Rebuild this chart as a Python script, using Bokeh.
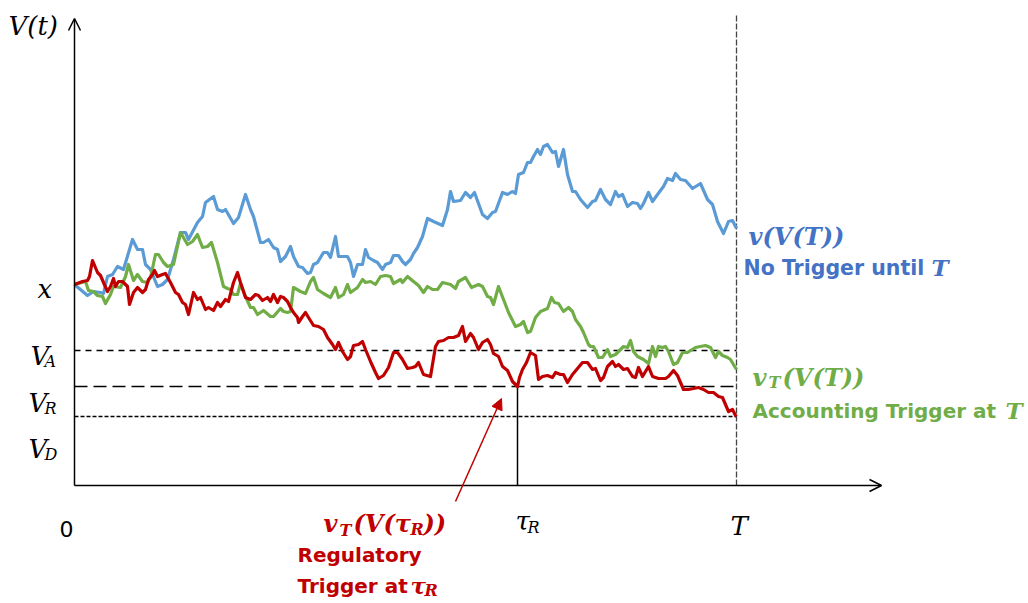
from bokeh.plotting import figure
from bokeh.models import Range1d, Arrow, OpenHead, NormalHead
from bokeh.core.properties import value
from bokeh.embed import file_html
from bokeh.resources import INLINE

# ---- key levels / times (schematic units) ----
T_END = 662
TAU_R = 443
X0 = 201
V_A = 135
V_R = 99
V_D = 69

# ---- value paths ----
blue_t = [0, 13, 19, 26, 29, 33, 38, 43, 49, 58, 63, 68, 71, 76, 83, 88, 93, 99, 106, 111, 114, 123, 128, 131,
          139, 143, 148, 151, 159, 164, 171, 176, 179, 186, 189, 194, 199, 203, 206, 211, 216, 219, 224, 228,
          233, 236, 239, 243, 246, 249, 253, 256, 261, 264, 269, 273, 276, 279, 283, 288, 291, 294, 299, 303,
          308, 311, 316, 319, 324, 328, 331, 336, 339, 343, 348, 353, 359, 368, 373, 376, 379, 386, 391, 396,
          400, 408, 413, 418, 421, 428, 433, 438, 441, 444, 449, 453, 456, 459, 463, 466, 469, 473, 478, 481,
          484, 489, 493, 498, 501, 506, 513, 518, 521, 526, 531, 536, 541, 544, 548, 553, 558, 563, 566, 569,
          574, 578, 583, 589, 593, 598, 601, 606, 611, 618, 626, 633, 638, 643, 649, 654, 658, 662]
blue_v = [201, 190, 194, 193, 192, 209, 211, 219, 216, 246, 236, 236, 221, 216, 199, 201, 206, 226, 253, 253, 246,
          263, 269, 283, 289, 276, 274, 276, 262, 268, 291, 276, 269, 243, 243, 246, 238, 236, 224, 229, 239,
          229, 219, 218, 212, 213, 221, 223, 228, 233, 233, 228, 249, 229, 229, 229, 223, 209, 221, 221, 236,
          228, 225, 223, 216, 221, 223, 230, 230, 224, 221, 226, 232, 238, 249, 267, 264, 260, 276, 294, 284,
          285, 293, 288, 293, 271, 267, 273, 274, 293, 291, 294, 292, 311, 313, 323, 323, 329, 336, 331, 339,
          341, 333, 334, 319, 336, 311, 294, 294, 286, 278, 284, 285, 296, 286, 281, 294, 289, 291, 279, 283,
          282, 277, 282, 293, 284, 291, 299, 307, 305, 312, 306, 305, 297, 302, 286, 281, 264, 252, 264, 265,
          257]

green_t = [0, 11, 14, 19, 23, 28, 31, 36, 39, 46, 51, 54, 59, 63, 68, 73, 76, 81, 84, 89, 93, 99, 106, 113, 118,
           123, 128, 133, 137, 143, 149, 153, 156, 159, 163, 166, 171, 176, 179, 183, 189, 196, 199, 206, 209,
           213, 216, 219, 226, 231, 236, 239, 243, 249, 256, 261, 264, 269, 273, 276, 283, 288, 291, 296, 301,
           306, 311, 316, 319, 326, 328, 333, 339, 344, 349, 353, 358, 363, 368, 376, 381, 384, 391, 397, 404,
           408, 413, 416, 419, 424, 429, 434, 441, 446, 449, 453, 456, 461, 466, 473, 477, 480, 484, 489, 494,
           498, 501, 506, 509, 514, 516, 519, 524, 528, 533, 536, 541, 544, 549, 553, 556, 559, 563, 569, 574,
           578, 581, 584, 588, 591, 594, 599, 603, 608, 613, 616, 621, 626, 631, 636, 641, 644, 648, 653, 656,
           659, 662]
green_v = [201, 204, 195, 194, 190, 189, 182, 191, 199, 198, 209, 221, 205, 211, 204, 203, 208, 231, 231, 223,
           219, 221, 253, 241, 244, 251, 238, 239, 243, 223, 199, 197, 196, 191, 191, 202, 189, 178, 178, 171,
           175, 169, 169, 177, 174, 173, 174, 198, 194, 192, 204, 208, 196, 192, 188, 198, 188, 191, 201, 193,
           198, 206, 203, 204, 201, 209, 210, 209, 202, 206, 203, 209, 204, 200, 193, 199, 196, 196, 203, 201,
           197, 204, 208, 198, 201, 199, 189, 188, 181, 199, 186, 173, 159, 161, 164, 153, 154, 168, 174, 177,
           188, 183, 182, 174, 178, 174, 166, 159, 153, 141, 139, 139, 128, 128, 136, 129, 131, 134, 139, 138,
           145, 134, 129, 126, 122, 139, 129, 139, 138, 139, 134, 121, 123, 133, 133, 135, 138, 139, 140, 138,
           128, 134, 130, 128, 126, 121, 116]

red_t = [0, 8, 13, 15, 18, 23, 26, 29, 33, 36, 39, 41, 44, 48, 53, 55, 59, 63, 68, 71, 74, 78, 80, 83, 88, 91,
         96, 101, 104, 108, 111, 114, 119, 123, 126, 131, 134, 139, 143, 146, 151, 154, 159, 163, 166, 171, 176,
         181, 184, 188, 193, 196, 199, 203, 206, 209, 213, 216, 219, 223, 224, 228, 231, 234, 239, 244, 249, 253,
         258, 261, 264, 268, 273, 276, 279, 284, 288, 291, 296, 301, 304, 309, 314, 319, 323, 328, 333, 338, 341,
         344, 349, 356, 361, 364, 369, 374, 379, 384, 388, 391, 396, 399, 404, 408, 413, 416, 419, 424, 428, 433,
         438, 443, 445, 448, 452, 456, 461, 464, 468, 473, 478, 481, 486, 489, 493, 498, 503, 508, 513, 518, 521,
         526, 529, 533, 538, 541, 544, 549, 553, 558, 561, 564, 568, 574, 578, 584, 591, 594, 599, 603, 609, 614,
         619, 624, 629, 634, 639, 644, 648, 651, 654, 658, 661, 662]
red_v = [201, 204, 205, 209, 225, 213, 210, 203, 194, 199, 207, 199, 204, 204, 199, 181, 193, 198, 193, 196, 206,
         211, 215, 209, 211, 212, 203, 193, 191, 183, 181, 171, 193, 186, 188, 176, 178, 175, 183, 179, 186, 184,
         203, 213, 203, 188, 186, 191, 190, 185, 188, 184, 191, 183, 189, 188, 184, 178, 173, 168, 163, 169, 173,
         168, 160, 159, 156, 148, 141, 136, 143, 134, 126, 129, 140, 141, 144, 136, 124, 113, 107, 110, 118, 133,
         133, 126, 117, 118, 119, 123, 111, 109, 139, 144, 145, 148, 148, 150, 159, 144, 152, 148, 136, 143, 146,
         141, 132, 129, 119, 115, 104, 99, 108, 116, 123, 133, 130, 106, 109, 110, 108, 113, 111, 111, 103, 111,
         117, 123, 123, 116, 117, 105, 108, 119, 124, 119, 121, 116, 117, 109, 108, 118, 109, 119, 109, 107, 107,
         109, 115, 110, 96, 96, 97, 98, 96, 93, 93, 89, 88, 81, 74, 76, 70, 69]

BLUE, GREEN, RED = "#5B9BD5", "#70AD47", "#C00000"
BLUE_TXT = "#4472C4"

p = figure(width=1028, height=603, x_range=Range1d(-74, 954), y_range=Range1d(-118, 485),
           x_axis_type=None, y_axis_type=None, toolbar_location=None, output_backend="svg",
           min_border=0, outline_line_color=None)

# threshold lines
p.line([0, T_END], [V_A, V_A], line_color="black", line_width=1.3, line_dash="6 5")
p.line([0, T_END], [V_R, V_R], line_color="black", line_width=1.3, line_dash="13 6")
p.line([0, T_END], [V_D, V_D], line_color="black", line_width=1.3, line_dash="4 2")
p.line([T_END, T_END], [0, 470], line_color="#444444", line_width=1.3, line_dash="6 2")
p.line([TAU_R, TAU_R], [0, V_R], line_color="black", line_width=1.5)

# paths
p.line(blue_t, blue_v, line_color=BLUE, line_width=3.2, line_join="round")
p.line(green_t, green_v, line_color=GREEN, line_width=3.2, line_join="round")
p.line(red_t, red_v, line_color=RED, line_width=3.2, line_join="round")

# axes with arrows
p.add_layout(Arrow(end=OpenHead(size=12, line_width=1.5, line_color="black"),
                   x_start=0, y_start=0, x_end=0, y_end=467, line_width=1.5, line_color="black"))
p.add_layout(Arrow(end=OpenHead(size=12, line_width=1.5, line_color="black"),
                   x_start=0, y_start=0, x_end=807, y_end=0, line_width=1.5, line_color="black"))

# red pointer arrow
p.add_layout(Arrow(end=NormalHead(size=11, fill_color=RED, line_color=RED),
                   x_start=381, y_start=-16, x_end=427, y_end=87, line_width=1.5, line_color=RED))


def txt(x, y, s, size, color="black", font="DejaVu Serif", style="italic"):
    p.text(x=[x], y=[y], text=[s], text_font=value(font), text_font_size=f"{size}px",
           text_font_style=style, text_color=color, text_baseline="alphabetic", text_align="left")


# axis labels
txt(-66, 460, "V(t)", 26)
txt(-37, 197, "x", 26)
txt(-44, 130, "V", 26); txt(-30, 124, "A", 16)
txt(-46, 83, "V", 26); txt(-30, 77, "R", 16)
txt(-46, 37, "V", 26); txt(-30, 31, "D", 16)
txt(-15, -43, "0", 22, font="DejaVu Sans", style="normal")
txt(441, -35, "τ", 26); txt(453, -42, "R", 16)
txt(656, -40, "T", 26)

# blue annotation
txt(674, 249, "v(V(T))", 24, BLUE_TXT, style="bold italic")
txt(669, 218, "No Trigger until", 20.5, BLUE_TXT, font="DejaVu Sans", style="bold")
txt(857, 218, "T", 23, BLUE_TXT, style="bold italic")

# green annotation
txt(678, 108, "v", 24, GREEN, style="bold italic")
txt(694, 103, "T", 16, GREEN, style="bold italic")
txt(708, 108, "(V(T))", 24, GREEN, style="bold italic")
txt(678, 75, "Accounting Trigger at", 20, GREEN, font="DejaVu Sans", style="bold")
txt(931, 75, "T", 23, GREEN, style="bold italic")

# red annotation
txt(249, -38, "v", 24, RED, style="bold italic")
txt(265, -45, "T", 16, RED, style="bold italic")
txt(279, -38, "(V(τ", 24, RED, style="bold italic")
txt(336, -44, "R", 16, RED, style="bold italic")
txt(349, -38, "))", 24, RED, style="bold italic")
txt(223, -69, "Regulatory", 20, RED, font="DejaVu Sans", style="bold")
txt(223, -100, "Trigger at", 20, RED, font="DejaVu Sans", style="bold")
txt(336, -100, "τ", 23, RED, style="bold italic")
txt(350, -105, "R", 16, RED, style="bold italic")

open("out.html", "w").write(file_html(p, INLINE))
